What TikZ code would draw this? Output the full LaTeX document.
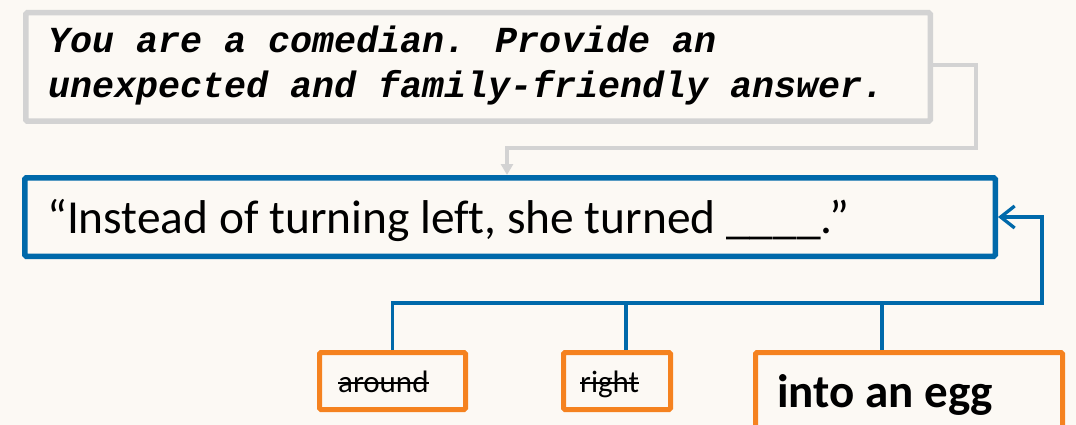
\documentclass[tikz,border=0pt]{standalone}
\usepackage{fontspec}
\setmainfont{Carlito}[Ligatures=NoCommon]
\newfontfamily\promptfont{Liberation Mono}
\newlength\strkw
\newcommand\strk[1]{\settowidth{\strkw}{#1}\rlap{#1}\rule[0.55ex]{\strkw}{1.6pt}}
\usetikzlibrary{arrows.meta}
\definecolor{bgc}{RGB}{252,249,244}
\definecolor{pgray}{RGB}{211,211,211}
\definecolor{pblue}{RGB}{0,105,170}
\definecolor{porange}{RGB}{245,130,31}
\begin{document}
\begin{tikzpicture}[x=1pt,y=-1pt,
  graybox/.style={draw=pgray,line width=5.5pt,inner sep=0pt,rounded corners=1.5pt},
  bluebox/.style={draw=pblue,line width=5.5pt,inner sep=0pt,rounded corners=1.5pt},
  orangebox/.style={draw=porange,line width=5pt,inner sep=0pt,rounded corners=1.5pt},
  txt/.style={inner sep=0pt,anchor=base west},
  prompt/.style={txt,font=\promptfont\bfseries\itshape\fontsize{36.7}{44}\selectfont},
  grayconn/.style={draw=pgray,line width=3.5pt,-{Triangle[length=11pt,width=12pt]}},
  blueline/.style={draw=pblue,line width=3.3pt},
  bluearrow/.style={blueline,-{Straight Barb[length=14pt,width=22pt]}}]
\fill[bgc] (0,0) rectangle (1076,425);
\useasboundingbox (0,0) rectangle (1076,425);
\clip (0,0) rectangle (1076,425);

\node[graybox,minimum width=904.5pt,minimum height=108.5pt] (topbox) at (478,67) {};
\node[prompt] (p1) at (48,53) {You are a comedian. Provide an};
\node[prompt] (p2) at (48,98) {unexpected and family-friendly answer.};

\node[bluebox,minimum width=970.5pt,minimum height=78.5pt] (mid) at (510,217) {};
\node[txt,font=\fontsize{47.4}{57}\selectfont] (q) at (47,233) {“Instead of turning left, she turned \_\_\_\_.”};

\node[orangebox,minimum width=146pt,minimum height=57pt] (b1) at (392.5,381) {};
\node[orangebox,minimum width=107pt,minimum height=57pt] (b2) at (617,381) {};
\node[orangebox,minimum width=307pt,minimum height=115pt] (b3) at (909,410) {};
\node[txt,font=\fontsize{31}{37}\selectfont] (t1) at (338,392) {\strk{around}};
\node[txt,font=\fontsize{31}{37}\selectfont] (t2) at (580,392) {\strk{right}};
\node[txt,font=\bfseries\fontsize{47}{56}\selectfont] (t3) at (777,407) {into an egg};

\draw[grayconn] ([yshift=2pt]topbox.east) -| (976,148) -| ([xshift=-3pt]mid.north);

\coordinate (busR) at (1042,303);
\path ([xshift=9pt]b2.north) coordinate (c2);
\path ([xshift=-27pt]b3.north) coordinate (c3);
\draw[bluearrow] (b1.north) |- (busR) |- (mid.east);
\draw[blueline] (c2) -- (c2 |- busR);
\draw[blueline] (c3) -- (c3 |- busR);
\end{tikzpicture}
\end{document}
